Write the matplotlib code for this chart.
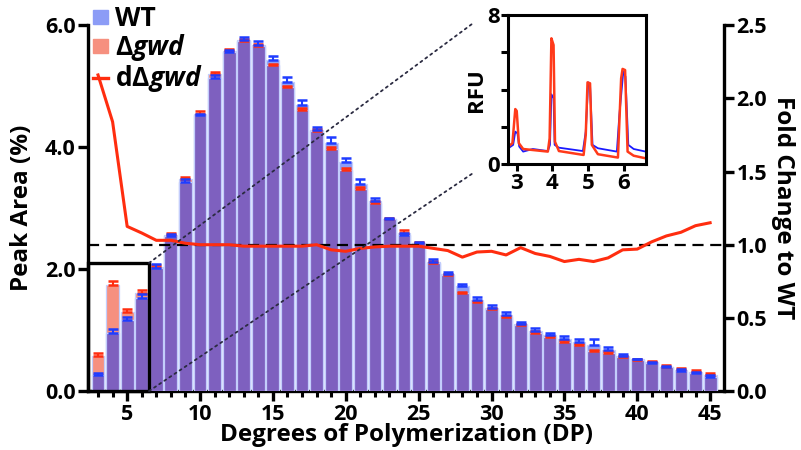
import matplotlib
matplotlib.use("Agg")
import matplotlib.pyplot as plt
import numpy as np
from matplotlib.patches import Patch, Rectangle, ConnectionPatch
from matplotlib.lines import Line2D

plt.rcParams['font.family'] = ['Open Sans', 'DejaVu Sans']
plt.rcParams['font.weight'] = 'bold'
plt.rcParams['mathtext.fontset'] = 'custom'
plt.rcParams['mathtext.rm'] = 'Open Sans:bold'
plt.rcParams['mathtext.bf'] = 'Open Sans:bold'
plt.rcParams['mathtext.it'] = 'Open Sans:bold:italic'

# ---------------- data ----------------
dp = list(range(3, 46))
wt = [0.26, 0.96, 1.16, 1.52, 2.01, 2.54, 3.43, 4.52, 5.14, 5.56, 5.76, 5.68, 5.43, 5.07,
      4.69, 4.28, 4.07, 3.75, 3.40, 3.11, 2.82, 2.56, 2.43, 2.12, 1.92, 1.72, 1.50, 1.37,
      1.25, 1.10, 0.98, 0.92, 0.86, 0.81, 0.75, 0.67, 0.57, 0.52, 0.46, 0.39, 0.33, 0.29, 0.23]
gwd = [0.58, 1.74, 1.30, 1.61, 2.03, 2.56, 3.47, 4.55, 5.20, 5.58, 5.74, 5.66, 5.34, 4.98,
       4.61, 4.27, 3.97, 3.62, 3.31, 3.09, 2.82, 2.60, 2.42, 2.10, 1.90, 1.61, 1.46, 1.34,
       1.21, 1.08, 0.96, 0.88, 0.81, 0.75, 0.66, 0.63, 0.56, 0.51, 0.47, 0.40, 0.35, 0.31, 0.26]
wt_err = [0.03, 0.06, 0.06, 0.07, 0.08, 0.04, 0.04, 0.03, 0.04, 0.04, 0.05, 0.06, 0.07, 0.08,
          0.08, 0.05, 0.09, 0.08, 0.07, 0.05, 0.02, 0.03, 0.02, 0.04, 0.03, 0.03, 0.05, 0.04,
          0.05, 0.04, 0.05, 0.04, 0.04, 0.05, 0.10, 0.05, 0.03, 0.01, 0.02, 0.02, 0.03, 0.03, 0.03]
gwd_err = [0.05, 0.06, 0.05, 0.05, 0.03, 0.04, 0.04, 0.04, 0.04, 0.03,
           0.03, 0.03, 0.03, 0.03, 0.03, 0.03, 0.03, 0.03, 0.03, 0.03,
           0.02, 0.04, 0.02, 0.03, 0.02, 0.02, 0.02, 0.02, 0.02, 0.02,
           0.02, 0.02, 0.02, 0.02, 0.02, 0.02, 0.02, 0.02, 0.02, 0.02,
           0.02, 0.03, 0.03]
fold = [2.16, 1.84, 1.125, 1.08, 1.03, 1.03, 1.01, 1.0, 1.0, 1.0, 0.99, 0.99, 0.99, 0.99,
        0.99, 1.0, 0.965, 0.955, 0.975, 0.985, 0.99, 0.99, 0.99, 0.975, 0.96, 0.915, 0.95,
        0.955, 0.93, 0.98, 0.94, 0.92, 0.885, 0.90, 0.885, 0.91, 0.965, 0.97, 1.02, 1.06,
        1.085, 1.13, 1.15]

left_ticks = [0, 2, 4, 6]
left_labels = ["0.0", "2.0", "4.0", "6.0"]
right_ticks = [0, 0.5, 1.0, 1.5, 2.0, 2.5]
right_labels = ["0.0", "0.5", "1.0", "1.5", "2.0", "2.5"]
x_ticks = [5, 10, 15, 20, 25, 30, 35, 40, 45]

# inset electropherogram traces
ins_x_wt = [2.765, 2.90, 2.96, 3.02, 3.07, 3.18, 3.45, 3.87, 3.93, 3.97, 4.03, 4.06, 4.18,
            4.85, 4.93, 5.00, 5.05, 5.12, 5.27, 5.80, 5.87, 5.98, 6.04, 6.12, 6.27, 6.606]
ins_y_wt = [0.86, 1.04, 1.75, 1.66, 0.95, 0.68, 0.82, 0.71, 1.04, 3.75, 3.54, 1.04, 0.89,
            0.71, 1.75, 4.39, 4.25, 1.04, 0.86, 0.68, 2.64, 4.96, 4.70, 1.04, 0.82, 0.68]
ins_x_gwd = [2.765, 2.88, 2.96, 3.00, 3.06, 3.18, 3.87, 3.92, 3.97, 4.03, 4.07, 4.18,
             4.87, 4.93, 4.98, 5.05, 5.10, 5.27, 5.83, 5.92, 5.96, 6.03, 6.10, 6.27, 6.606]
ins_y_gwd = [0.95, 1.13, 2.96, 2.86, 1.13, 0.82, 0.68, 1.39, 6.75, 6.39, 1.21, 0.71,
             0.50, 1.57, 4.39, 4.34, 1.04, 0.54, 0.36, 4.61, 5.11, 5.05, 0.68, 0.46, 0.32]

# ---------------- style ----------------
c_wt = '#8c9cf6'
c_gwd = '#f6907f'
c_both = '#7e60bf'
c_edge = '#c3cdfc'
c_line = '#ff2d0f'
c_wt_err = '#1f3cff'
c_gwd_err = '#ff2d0f'

fig = plt.figure(figsize=(8.01, 4.5), dpi=100)
ax = fig.add_axes([0.110, 0.131, 0.794, 0.813])

x = np.array(dp, dtype=float)
wt_a = np.array(wt)
gwd_a = np.array(gwd)
bw = 0.88
ax.bar(x, gwd_a, width=bw, color=c_gwd, edgecolor=c_edge, linewidth=0.9, zorder=2)
ax.bar(x, wt_a, width=bw, color=c_wt, edgecolor=c_edge, linewidth=0.9, zorder=2)
ax.bar(x, np.minimum(wt_a, gwd_a), width=bw, color=c_both, edgecolor=c_edge,
       linewidth=0.9, zorder=3)

ax.errorbar(x, gwd_a, yerr=[np.zeros_like(gwd_a), gwd_err], fmt='none', ecolor=c_gwd_err,
            elinewidth=1.5, capsize=3.3, capthick=1.8, zorder=4)
ax.errorbar(x, wt_a, yerr=[np.zeros_like(wt_a), wt_err], fmt='none', ecolor=c_wt_err,
            elinewidth=1.5, capsize=3.3, capthick=1.8, zorder=4)

ax.set_xlim(2.32, 45.96)
ax.set_ylim(0, 6)
ax.set_yticks(left_ticks)
ax.set_yticklabels(left_labels)
ax.set_xticks(x_ticks)
ax.set_xticks(dp, minor=True)
for s in ['top', 'right']:
    ax.spines[s].set_visible(False)
for s in ['left', 'bottom']:
    ax.spines[s].set_linewidth(2.4)
ax.tick_params(axis='both', which='major', width=2.4, length=7, labelsize=15.5, pad=2)
ax.tick_params(axis='x', which='minor', width=2.2, length=4)
ax.set_xlabel('Degrees of Polymerization (DP)', fontsize=17.5, fontweight='bold', labelpad=-1)
ax.set_ylabel('Peak Area (%)', fontsize=17.5, fontweight='bold', labelpad=8)

# zoom rectangle
ax.add_patch(Rectangle((2.32, 0), 6.5 - 2.32, 2.1, fill=False, edgecolor='black',
                       linewidth=2.4, zorder=5, clip_on=False))

# fold change axis
ax2 = ax.twinx()
ax2.set_ylim(0, 2.5)
ax2.plot(x, fold, color=c_line, linewidth=2.2, zorder=5)
ax2.axhline(1.0, color='black', linestyle=(0, (5, 3)), linewidth=1.6, zorder=4)
ax2.set_yticks(right_ticks)
ax2.set_yticklabels(right_labels)
for s in ['top', 'left', 'bottom']:
    ax2.spines[s].set_visible(False)
ax2.spines['right'].set_linewidth(2.4)
ax2.tick_params(axis='y', width=2.4, length=7, labelsize=15.5, pad=2)
ax2.set_ylabel('Fold Change to WT', fontsize=17.5, fontweight='bold', rotation=-90,
               labelpad=20)

# legend
handles = [Patch(facecolor=c_wt, edgecolor=c_wt),
           Patch(facecolor=c_gwd, edgecolor=c_gwd),
           Line2D([0], [0], color=c_line, linewidth=2.4)]
labels = ['WT', r'$\Delta\mathit{gwd}$', r'd$\Delta\mathit{gwd}$']
fig.legend(handles, labels, loc='upper left', bbox_to_anchor=(93 / 801, 1 - 5 / 450),
           frameon=False, handlelength=0.55, handleheight=0.45,
           handletextpad=0.3, labelspacing=0.0, borderpad=0, borderaxespad=0,
           prop={'weight': 'bold', 'size': 19})

# inset
axi = fig.add_axes([0.6346, 0.6349, 0.1715, 0.3318])
axi.plot(ins_x_wt, ins_y_wt, color='#1a1aff', linewidth=1.3)
axi.plot(ins_x_gwd, ins_y_gwd, color='#ff3a1a', linewidth=1.8)
axi.set_xlim(2.765, 6.606)
axi.set_ylim(0, 8)
axi.set_xticks([3, 4, 5, 6])
axi.set_yticks([0, 2, 4, 6, 8])
axi.set_yticklabels(['0', '', '', '', '8'])
for s in axi.spines.values():
    s.set_linewidth(2.2)
axi.tick_params(width=2.2, length=5, labelsize=16, pad=1)
axi.set_ylabel('RFU', fontsize=16, fontweight='bold', labelpad=0)

# connector lines
for (xa, ya), (xb, yb) in [((6.5, 2.1), (-0.255, 0.946)), ((6.5, 0.0), (-0.255, -0.058))]:
    con = ConnectionPatch(xyA=(xa, ya), coordsA=ax.transData,
                          xyB=(xb, yb), coordsB=axi.transAxes,
                          linestyle=(0, (1.2, 2.2)), color='#2a2a40', linewidth=1.3)
    fig.add_artist(con)

fig.savefig('out.png', dpi=100)
